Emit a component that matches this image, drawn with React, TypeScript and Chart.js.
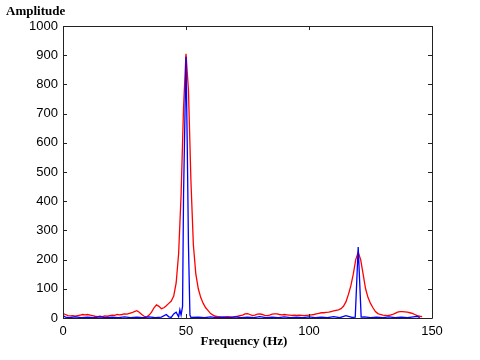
import React, { useEffect, useRef } from "react";
import { Chart, registerables } from "chart.js";

Chart.register(...registerables);

const redFreq = [
  0, 1, 2, 3, 4, 5, 6, 7, 8, 9, 10, 11, 12, 13, 14, 15, 16, 17, 18, 19, 20, 21, 22, 23, 24, 25, 26, 27, 28, 29,
  30, 31, 32, 33, 34, 35, 36, 37, 38, 39, 40, 41, 42, 43, 44, 45, 46, 47, 48, 49, 50, 51, 52, 53, 54, 55, 56, 57, 58, 59,
  60, 61, 62, 63, 64, 65, 66, 67, 68, 69, 70, 71, 72, 73, 74, 75, 76, 77, 78, 79, 80, 81, 82, 83, 84, 85, 86, 87, 88, 89,
  90, 91, 92, 93, 94, 95, 96, 97, 98, 99, 100, 101, 102, 103, 104, 105, 106, 107, 108, 109, 110, 111, 112, 113, 114, 115, 116, 117, 118, 119,
  120, 121, 122, 123, 124, 125, 126, 127, 128, 129, 130, 131, 132, 133, 134, 135, 136, 137, 138, 139, 140, 141, 142, 143, 144, 145, 146,
];
const redAmp = [
  15, 12, 8, 7, 8, 6, 8, 10, 12, 11, 12, 10, 8, 6, 5, 6, 5, 7, 6, 8, 10, 9, 12, 11, 12, 14, 13, 16, 18, 22,
  25, 20, 12, 6, 3, 10, 20, 35, 45, 40, 32, 35, 42, 50, 58, 75, 120, 220, 420, 720, 905, 780, 470, 250, 150, 100, 70, 50, 35, 25,
  15, 10, 6, 5, 4, 3, 4, 5, 4, 3, 5, 6, 8, 10, 14, 15, 12, 8, 10, 13, 14, 12, 9, 8, 10, 13, 14, 14, 12, 11,
  12, 11, 10, 9, 10, 9, 10, 9, 8, 9, 10, 11, 12, 14, 16, 18, 18, 19, 20, 22, 24, 26, 28, 32, 40, 55, 80, 110, 150, 200,
  225, 200, 150, 100, 70, 50, 35, 22, 15, 12, 10, 9, 8, 10, 12, 16, 20, 22, 22, 21, 20, 18, 16, 12, 8, 6, 5,
];

const blueFreq = [
  0, 1, 2.5, 5, 7.5, 10, 12.5, 15, 17.5, 20, 22.5, 25, 27.5, 30, 32.5, 35, 37.5, 40, 42, 43, 44, 45, 46, 47, 47.5, 48, 48.6, 49, 50, 50.5, 51, 51.6, 52,
  55, 57.5, 60, 62.5, 65, 67.5, 70, 72.5, 75, 77.5, 80, 82.5, 85, 87.5, 90, 92.5, 95, 97.5, 100, 102.5, 105, 107.5, 110, 112.5, 115, 117.5, 118.8, 120, 121.2,
  122.5, 125, 127.5, 130, 132.5, 135, 137.5, 140, 142.5, 144, 145,
];
const blueAmp = [
  8, 3, 1, 4, 1, 3, 1, 4, 1, 3, 1, 4, 1, 3, 1, 4, 1, 3, 12, 4, 2, 14, 20, 4, 28, 10, 40, 420, 895, 600, 250, 10, 2,
  3, 1, 4, 1, 3, 1, 4, 1, 3, 1, 5, 1, 3, 1, 4, 1, 3, 1, 4, 1, 3, 1, 5, 1, 8, 2, 3, 243, 3,
  4, 1, 3, 1, 4, 1, 3, 1, 4, 6, 1,
];

const xTicks = [0, 50, 100, 150];
const yTicks = [0, 100, 200, 300, 400, 500, 600, 700, 800, 900, 1000];

const frame = {
  id: "frame",
  afterDraw(chart: any) {
    const { ctx, chartArea: a, scales } = chart;
    ctx.save();
    ctx.strokeStyle = "#222";
    ctx.lineWidth = 1;
    ctx.beginPath();
    ctx.rect(Math.round(a.left) + 0.5, Math.round(a.top) + 0.5, Math.round(a.right - a.left), Math.round(a.bottom - a.top));
    ctx.stroke();
    const tl = 4;
    ctx.beginPath();
    for (const v of xTicks) {
      const x = Math.round(scales.x.getPixelForValue(v)) + 0.5;
      ctx.moveTo(x, a.bottom);
      ctx.lineTo(x, a.bottom - tl);
      ctx.moveTo(x, a.top);
      ctx.lineTo(x, a.top + tl);
    }
    for (const v of yTicks) {
      const y = Math.round(scales.y.getPixelForValue(v)) + 0.5;
      ctx.moveTo(a.left, y);
      ctx.lineTo(a.left + tl, y);
      ctx.moveTo(a.right, y);
      ctx.lineTo(a.right - tl, y);
    }
    ctx.stroke();
    ctx.fillStyle = "#000";
    ctx.font = "bold 13px 'Liberation Serif'";
    ctx.textBaseline = "alphabetic";
    ctx.textAlign = "left";
    ctx.fillText("Amplitude", 6, 15);
    ctx.textAlign = "center";
    ctx.fillText("Frequency (Hz)", 244, 345);
    ctx.restore();
  },
};

export default function App() {
  const ref = useRef<HTMLCanvasElement>(null);
  useEffect(() => {
    if (!ref.current) return;
    const chart = new Chart(ref.current, {
      type: "line",
      data: {
        datasets: [
          {
            label: "red",
            data: redFreq.map((f, i) => ({ x: f, y: redAmp[i] })),
            borderColor: "#ff0000",
            borderWidth: 1.3,
            pointRadius: 0,
            tension: 0,
            order: 1,
          },
          {
            label: "blue",
            data: blueFreq.map((f, i) => ({ x: f, y: blueAmp[i] })),
            borderColor: "#0000ff",
            borderWidth: 1.3,
            pointRadius: 0,
            tension: 0,
            order: 0,
          },
        ],
      },
      options: {
        animation: false,
        responsive: false,
        layout: { padding: { left: 0, right: 48, top: 26, bottom: 0 } },
        plugins: { legend: { display: false }, tooltip: { enabled: false } },
        scales: {
          x: {
            type: "linear",
            min: 0,
            max: 150,
            grid: { display: false, drawTicks: false },
            border: { display: false },
            afterFit: (s: any) => {
              s.height = 42;
            },
            afterBuildTicks: (s: any) => {
              s.ticks = xTicks.map((v) => ({ value: v }));
            },
            ticks: {
              color: "#000",
              font: { family: "'Liberation Sans'", size: 13 },
              padding: 6,
              maxRotation: 0,
              callback: (v: any) => String(v),
            },
          },
          y: {
            min: 0,
            max: 1000,
            grid: { display: false, drawTicks: false },
            border: { display: false },
            afterFit: (s: any) => {
              s.width = 63;
            },
            afterBuildTicks: (s: any) => {
              s.ticks = yTicks.map((v) => ({ value: v }));
            },
            ticks: {
              color: "#000",
              font: { family: "'Liberation Sans'", size: 13 },
              padding: 5,
              callback: (v: any) => String(v),
            },
          },
        },
      },
      plugins: [frame],
    });
    return () => chart.destroy();
  }, []);
  return (
    <div style={{ position: "fixed", left: 0, top: 0, width: 480, height: 360, background: "#fff" }}>
      <canvas ref={ref} width={480} height={360} style={{ width: 480, height: 360 }} />
    </div>
  );
}
